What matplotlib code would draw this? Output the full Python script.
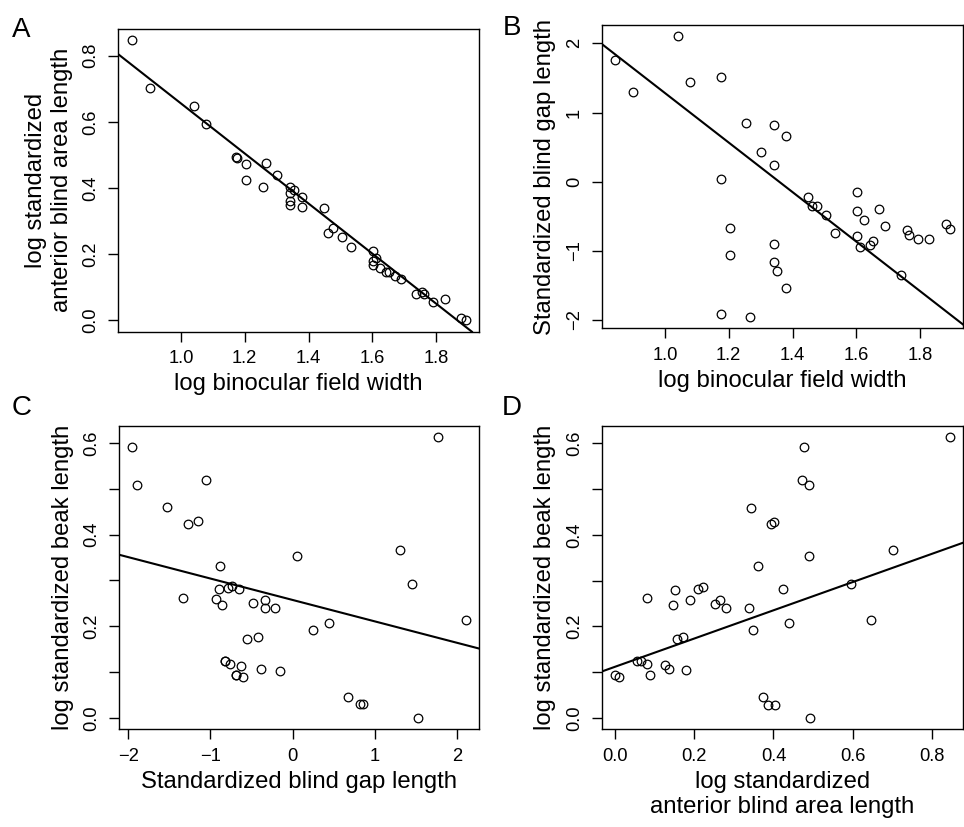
import matplotlib
matplotlib.use("Agg")
import matplotlib.pyplot as plt
import numpy as np

plt.rcParams["font.family"] = ["Liberation Sans", "DejaVu Sans"]

# Panel A: log binocular field width vs log standardized anterior blind area length
a_x = [0.846, 0.903, 1.042, 1.079, 1.174, 1.175, 1.204, 1.204, 1.267, 1.256,
       1.302, 1.342, 1.354, 1.342, 1.342, 1.342, 1.381, 1.381, 1.447, 1.477,
       1.462, 1.505, 1.532, 1.602, 1.612, 1.602, 1.602, 1.623, 1.644, 1.652,
       1.671, 1.689, 1.738, 1.754, 1.762, 1.791, 1.826, 1.878, 1.892]
a_y = [0.847, 0.703, 0.647, 0.594, 0.493, 0.490, 0.473, 0.424, 0.476, 0.403,
       0.439, 0.402, 0.394, 0.386, 0.361, 0.348, 0.373, 0.342, 0.338, 0.278,
       0.264, 0.252, 0.220, 0.210, 0.187, 0.178, 0.168, 0.157, 0.147, 0.147,
       0.133, 0.125, 0.079, 0.086, 0.079, 0.056, 0.063, 0.007, -0.001]

# Panel B: log binocular field width vs standardized blind gap length
b_x = [0.844, 0.901, 1.040, 1.079, 1.175, 1.175, 1.175, 1.203, 1.203, 1.255,
       1.266, 1.300, 1.342, 1.342, 1.342, 1.342, 1.351, 1.380, 1.380, 1.447,
       1.462, 1.477, 1.504, 1.532, 1.602, 1.602, 1.602, 1.612, 1.623, 1.643,
       1.653, 1.672, 1.691, 1.740, 1.757, 1.765, 1.794, 1.826, 1.882, 1.892]
b_y = [1.756, 1.303, 2.104, 1.448, 1.520, 0.043, -1.911, -0.666, -1.057, 0.844,
       -1.959, 0.434, 0.820, 0.236, -0.897, -1.158, -1.288, 0.666, -1.539, -0.222,
       -0.347, -0.347, -0.487, -0.748, -0.154, -0.429, -0.787, -0.941, -0.555, -0.912,
       -0.864, -0.396, -0.637, -1.351, -0.695, -0.772, -0.825, -0.825, -0.613, -0.680]

# Panel C: standardized blind gap length vs log standardized beak length
c_x = [-1.951, -1.899, -1.530, -1.279, -1.150, -1.049, -1.336, -0.887, -0.899, -0.931,
       -0.858, -0.781, -0.737, -0.656, -0.478, -0.340, -0.340, -0.219, 0.053, -0.551,
       -0.417, -0.822, -0.820, -0.757, -0.628, -0.692, -0.688, -0.607, -0.389, -0.150,
       0.243, 0.441, 0.668, 0.822, 0.854, 1.304, 1.453, 1.526, 1.765, 2.105]
c_y = [0.592, 0.509, 0.460, 0.423, 0.430, 0.520, 0.262, 0.332, 0.281, 0.260,
       0.246, 0.284, 0.288, 0.281, 0.251, 0.258, 0.241, 0.241, 0.354, 0.173,
       0.176, 0.125, 0.124, 0.117, 0.114, 0.093, 0.093, 0.090, 0.107, 0.103,
       0.193, 0.207, 0.045, 0.030, 0.030, 0.366, 0.293, 0.000, 0.613, 0.214]

# Panel D: log standardized anterior blind area length vs log standardized beak length
d_x = [0.000, 0.010, 0.056, 0.065, 0.081, 0.081, 0.088, 0.127, 0.135, 0.147,
       0.151, 0.157, 0.172, 0.179, 0.188, 0.210, 0.221, 0.253, 0.265, 0.279,
       0.339, 0.343, 0.349, 0.360, 0.373, 0.385, 0.403, 0.393, 0.402, 0.424,
       0.440, 0.472, 0.476, 0.490, 0.490, 0.493, 0.595, 0.646, 0.701, 0.845]
d_y = [0.093, 0.090, 0.124, 0.124, 0.263, 0.117, 0.093, 0.115, 0.107, 0.246,
       0.279, 0.173, 0.177, 0.104, 0.258, 0.281, 0.287, 0.250, 0.257, 0.240,
       0.240, 0.459, 0.193, 0.332, 0.045, 0.029, 0.029, 0.423, 0.428, 0.281,
       0.207, 0.520, 0.591, 0.508, 0.354, 0.000, 0.292, 0.215, 0.366, 0.613]

# fitted lines (intercept, slope) as drawn in the figure
fit_a = (1.414, -0.758)
fit_b = (4.869, -3.586)
fit_c = (0.2575, -0.0467)
fit_d = (0.112, 0.308)

bfw_ticks = [1.0, 1.2, 1.4, 1.6, 1.8]
bfw_labels = ["1.0", "1.2", "1.4", "1.6", "1.8"]
gap_ticks = [-2, -1, 0, 1, 2]
gap_labels = ["\u22122", "\u22121", "0", "1", "2"]
aba_ticks = [0.0, 0.2, 0.4, 0.6, 0.8]
aba_labels = ["0.0", "0.2", "0.4", "0.6", "0.8"]
beak_ticks = [0.0, 0.1, 0.2, 0.3, 0.4, 0.5, 0.6]
beak_labels = ["0.0", "", "0.2", "", "0.4", "", "0.6"]

W, H = 964, 827
fig = plt.figure(figsize=(W / 100, H / 100), dpi=100)


def box(left, top, right, bottom):
    # pixel box -> figure fraction
    return [left / W, 1 - bottom / H, (right - left) / W, (bottom - top) / H]


def panel(rect, x, y, fit, xt, xl, yt, yl, xlabel, ylabel):
    ax = fig.add_axes(rect)
    x = np.asarray(x)
    y = np.asarray(y)
    ax.plot(x, y, "o", mfc="none", mec="black", ms=6.2, mew=0.9, ls="none")
    ax.axline((0, fit[0]), slope=fit[1], color="black", lw=1.5)
    # R style 4% range extension
    xr = x.max() - x.min()
    yr = y.max() - y.min()
    ax.set_xlim(x.min() - 0.04 * xr, x.max() + 0.04 * xr)
    ax.set_ylim(y.min() - 0.04 * yr, y.max() + 0.04 * yr)
    ax.set_xticks(xt, xl)
    ax.set_yticks(yt, yl, rotation=90, va="center")
    for sp in ax.spines.values():
        sp.set_linewidth(1.0)
    ax.tick_params(length=7, width=1.0, labelsize=13.2, pad=6.5)
    ax.set_xlabel(xlabel, fontsize=17.2, labelpad=4, linespacing=1.2)
    ax.set_ylabel(ylabel, fontsize=17.2, labelpad=7, linespacing=1.2)
    return ax


panel(box(118.3, 29, 479, 331.7), a_x, a_y, fit_a, bfw_ticks, bfw_labels,
      aba_ticks, aba_labels, "log binocular field width",
      "log standardized\nanterior blind area length")
panel(box(601.7, 25, 963, 328.3), b_x, b_y, fit_b, bfw_ticks, bfw_labels,
      gap_ticks, gap_labels, "log binocular field width",
      "Standardized blind gap length")
panel(box(119, 425.7, 479, 729.3), c_x, c_y, fit_c, gap_ticks, gap_labels,
      beak_ticks, beak_labels, "Standardized blind gap length",
      "log standardized beak length")
panel(box(601.7, 426, 963, 729.3), d_x, d_y, fit_d, aba_ticks, aba_labels,
      beak_ticks, beak_labels, "log standardized\nanterior blind area length",
      "log standardized beak length")

for letter, px, py in [("A", 12, 37), ("B", 503, 35), ("C", 12, 415), ("D", 502, 415)]:
    fig.text(px / W, 1 - py / H, letter, fontsize=20, ha="left", va="baseline")

fig.savefig("out.png", dpi=100)
